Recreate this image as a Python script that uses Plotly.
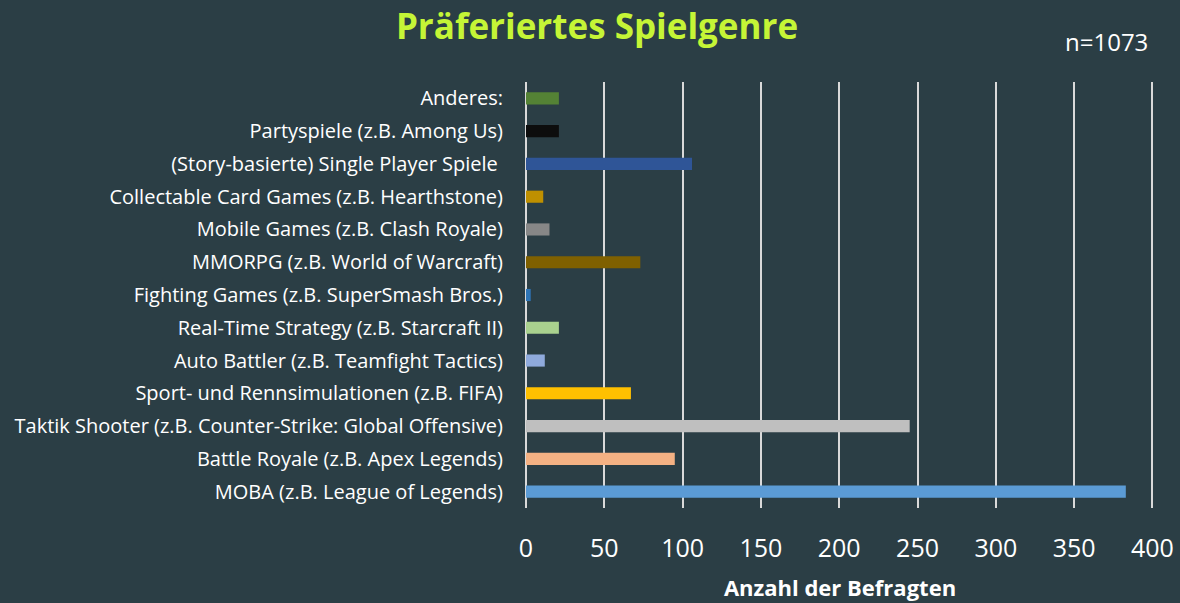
import plotly.graph_objects as go

genres = [
    "Anderes:",
    "Partyspiele (z.B. Among Us)",
    "(Story-basierte) Single Player Spiele ",
    "Collectable Card Games (z.B. Hearthstone)",
    "Mobile Games (z.B. Clash Royale)",
    "MMORPG (z.B. World of Warcraft)",
    "Fighting Games (z.B. SuperSmash Bros.)",
    "Real-Time Strategy (z.B. Starcraft II)",
    "Auto Battler (z.B. Teamfight Tactics)",
    "Sport- und Rennsimulationen (z.B. FIFA)",
    "Taktik Shooter (z.B. Counter-Strike: Global Offensive)",
    "Battle Royale (z.B. Apex Legends)",
    "MOBA (z.B. League of Legends)",
]
counts = [21, 21, 106, 11, 15, 73, 3, 21, 12, 67, 245, 95, 383]
colors = ["#548235", "#0d0d0d", "#2f5597", "#bf9000", "#878787", "#7f6000",
          "#2e75b6", "#a9d18e", "#8faadc", "#ffc000", "#bfbfbf", "#f4b183", "#5b9bd5"]
x_ticks = [0, 50, 100, 150, 200, 250, 300, 350, 400]

bg = "#2b3e45"
ff = "Open Sans, Noto Sans, sans-serif"

fig = go.Figure(go.Bar(
    x=counts, y=genres, orientation="h",
    marker=dict(color=colors, line=dict(width=0)),
    width=0.37,
))

fig.update_layout(
    width=1180, height=603,
    paper_bgcolor=bg, plot_bgcolor=bg,
    font=dict(family=ff, color="white"),
    margin=dict(l=526, r=26, t=82, b=95),
    showlegend=False,
    title=dict(text="<b>Präferiertes Spielgenre</b>", x=597/1180, xanchor="center",
               y=1-27/603, yanchor="middle",
               font=dict(size=35, color="#c5f536", family=ff)),
    annotations=[dict(text="n=1073", xref="paper", yref="paper",
                      x=(1106-526)/(1180-526-26), y=1+(82-42)/(603-82-95),
                      xanchor="center", yanchor="middle", showarrow=False,
                      font=dict(size=24, color="white"))],
)

fig.update_xaxes(
    range=[0, 401], tickvals=x_ticks, ticktext=[str(v) for v in x_ticks],
    showgrid=True, gridcolor="#d9d9d9", gridwidth=2,
    zeroline=True, zerolinecolor="#d9d9d9", zerolinewidth=2,
    tickfont=dict(size=25, color="white"), ticks="", ticklen=0,
    ticklabelstandoff=23, automargin=False,
    title=dict(text="<b>Anzahl der Befragten</b>", font=dict(size=22, color="white"), standoff=17),
)
fig.update_yaxes(
    categoryorder="array", categoryarray=genres[::-1],
    range=[-0.5, 12.5], showgrid=False,
    tickfont=dict(size=20, color="white"), ticks="", ticklen=0,
    ticklabelstandoff=22, automargin=False,
)

fig.write_html("out.html", config={"displayModeBar": False},
               post_script="document.body.style.margin='0';")
